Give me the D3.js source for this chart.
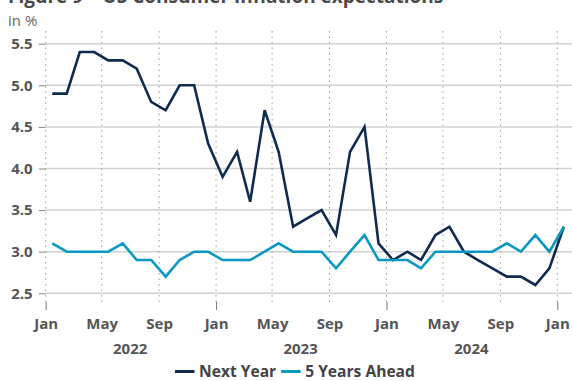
<!DOCTYPE html>
<html>
<head>
<meta charset="utf-8">
<script src="https://cdn.jsdelivr.net/npm/d3@7"></script>
<style>
  html, body { margin: 0; padding: 0; background: #fff; }
  svg { display: block; font-family: "Open Sans", "Noto Sans", sans-serif; }
</style>
</head>
<body>
<svg id="chart" width="572" height="381"></svg>
<script>
// Monthly survey readings, Jan 2022 – Jan 2025 (in %)
const months = d3.range(37).map(i => new Date(Date.UTC(2022, i, 15)));
const nextYear = [
  4.9, 4.9, 5.4, 5.4, 5.3, 5.3, 5.2, 4.8, 4.7, 5.0, 5.0, 4.3,
  3.9, 4.2, 3.6, 4.7, 4.2, 3.3, 3.4, 3.5, 3.2, 4.2, 4.5, 3.1,
  2.9, 3.0, 2.9, 3.2, 3.3, 3.0, 2.9, 2.8, 2.7, 2.7, 2.6, 2.8,
  3.3
];
const fiveYearsAhead = [
  3.1, 3.0, 3.0, 3.0, 3.0, 3.1, 2.9, 2.9, 2.7, 2.9, 3.0, 3.0,
  2.9, 2.9, 2.9, 3.0, 3.1, 3.0, 3.0, 3.0, 2.8, 3.0, 3.2, 2.9,
  2.9, 2.9, 2.8, 3.0, 3.0, 3.0, 3.0, 3.0, 3.1, 3.0, 3.2, 3.0,
  3.3
];
const yTicks = [2.5, 3.0, 3.5, 4.0, 4.5, 5.0, 5.5];
const xTicks = d3.range(0, 37, 4).map(i => new Date(Date.UTC(2022, i, 1)));
const years = [2022, 2023, 2024];
const seriesNames = ["Next Year", "5 Years Ahead"];
const seriesColors = ["#102b50", "#0b98c3"];

const svg = d3.select("#chart");
const x = d3.scaleUtc()
  .domain([new Date(Date.UTC(2022, 0, 1)), new Date(Date.UTC(2025, 0, 1))])
  .range([45.7, 557.3]);
const y = d3.scaleLinear().domain([2.5, 5.5]).range([293.3, 43.7]);

const textColor = "#555";

// Title (runs off the top edge) and unit
svg.append("text")
  .attr("x", 8).attr("y", 3)
  .attr("font-size", 19).attr("font-weight", 700).attr("fill", "#4a4a4a")
  .text("Figure 9 – US Consumer Inflation expectations");
svg.append("text")
  .attr("x", 8).attr("y", 26)
  .attr("font-size", 15).attr("fill", "#666")
  .text("in %");

// Horizontal gridlines
svg.append("g").selectAll("line").data(yTicks).join("line")
  .attr("x1", 45.7).attr("x2", 572)
  .attr("y1", d => y(d)).attr("y2", d => y(d))
  .attr("stroke", "#d2d2d2").attr("stroke-width", 1.5);

// Vertical dotted gridlines
svg.append("g").selectAll("line").data(xTicks).join("line")
  .attr("x1", d => x(d)).attr("x2", d => x(d))
  .attr("y1", 31).attr("y2", 306)
  .attr("stroke", "#9a9a9a").attr("stroke-width", 1)
  .attr("stroke-dasharray", "1.5,4");

// Y axis
const yAxis = svg.append("g")
  .attr("transform", "translate(45.7,0)")
  .call(d3.axisLeft(y).tickValues(yTicks).tickFormat(d3.format(".1f")).tickSize(7).tickPadding(6));
yAxis.select(".domain").remove();
yAxis.selectAll(".tick line").attr("stroke", "#888").attr("stroke-width", 1);
yAxis.selectAll("text")
  .attr("font-size", 15).attr("font-weight", 700).attr("fill", textColor)
  .attr("font-family", "'Open Sans', sans-serif");

// X axis: month labels; only January gets a solid tick
const xAxis = svg.append("g")
  .attr("transform", "translate(0,302)")
  .call(d3.axisBottom(x).tickValues(xTicks).tickFormat(d3.utcFormat("%b")).tickSize(8).tickPadding(8));
xAxis.select(".domain").remove();
xAxis.selectAll(".tick line")
  .attr("stroke", "#777").attr("stroke-width", 1)
  .attr("display", d => d.getUTCMonth() === 0 ? null : "none");
xAxis.selectAll("text")
  .attr("font-size", 15).attr("font-weight", 700).attr("fill", textColor)
  .attr("font-family", "'Open Sans', sans-serif");

// Year labels centred under each year
svg.append("g").selectAll("text").data(years).join("text")
  .attr("x", d => x(new Date(Date.UTC(d, 6, 1))))
  .attr("y", 353.5)
  .attr("text-anchor", "middle")
  .attr("font-size", 15).attr("font-weight", 700).attr("fill", textColor)
  .text(d => d);

// Series lines
const line = d3.line().x((d, i) => x(months[i])).y(d => y(d));
[nextYear, fiveYearsAhead].forEach((vals, k) => {
  svg.append("path")
    .datum(vals)
    .attr("d", line)
    .attr("fill", "none")
    .attr("stroke", seriesColors[k])
    .attr("stroke-width", 2.6)
    .attr("stroke-linejoin", "miter");
});

// Legend
const legend = svg.append("g").attr("transform", "translate(175,376.5)");
let lx = 0;
seriesNames.forEach((name, k) => {
  legend.append("line")
    .attr("x1", lx).attr("x2", lx + 19.5)
    .attr("y1", -5).attr("y2", -5)
    .attr("stroke", seriesColors[k]).attr("stroke-width", 3);
  const t = legend.append("text")
    .attr("x", lx + 24).attr("y", 0)
    .attr("font-size", 15.6).attr("font-weight", 700).attr("fill", "#444")
    .text(name);
  lx += 24 + t.node().getComputedTextLength() + 5;
});
</script>
</body>
</html>
